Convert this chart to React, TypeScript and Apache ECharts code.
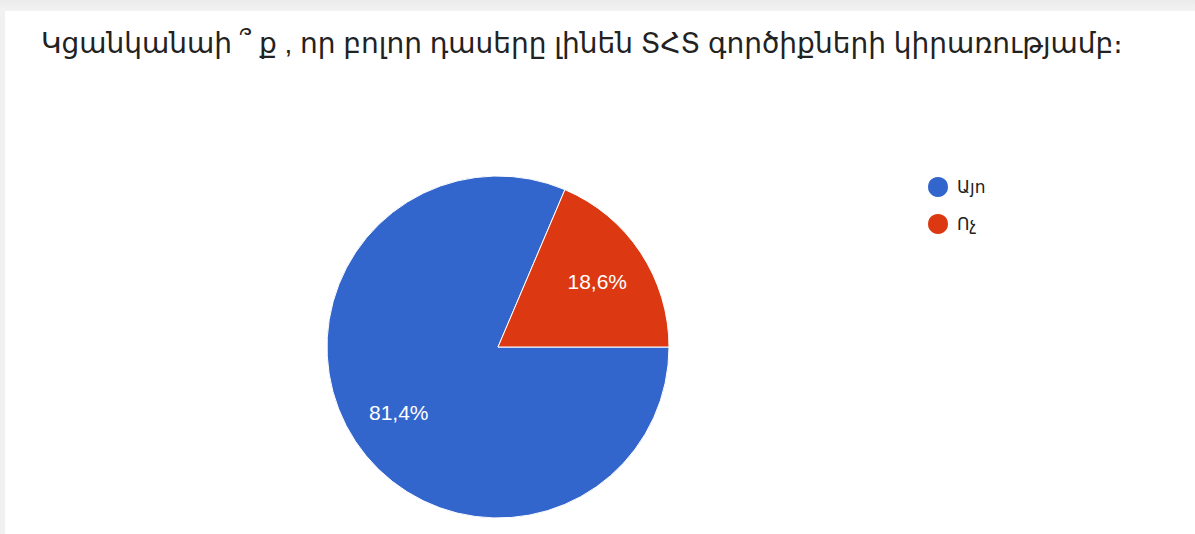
import React, { useEffect, useRef } from "react";
import * as echarts from "echarts";

const titleText = "Կցանկանաի ՞ ք , որ բոլոր դասերը լինեն ՏՀՏ գործիքների կիրառությամբ։";
const categories = ["Այո", "Ոչ"];
const values = [81.4, 18.6];
const colors = ["#3366cc", "#dc3912"];

const FONT = "Arial, 'Liberation Sans', 'DejaVu Sans', sans-serif";

export default function App() {
  const ref = useRef<HTMLDivElement>(null);
  useEffect(() => {
    document.body.style.margin = "0";
    const chart = echarts.init(ref.current!, null, { renderer: "svg" });
    const data = categories.map((name, i) => ({
      name,
      value: values[i],
      itemStyle: { color: colors[i] },
    }));
    chart.setOption({
      animation: false,
      backgroundColor: "#ffffff",
      title: {
        text: titleText,
        left: 36,
        top: 24,
        textStyle: { fontFamily: FONT, fontSize: 28, fontWeight: "normal", color: "#222222" },
      },
      legend: {
        orient: "vertical",
        left: 921,
        top: 170,
        icon: "circle",
        itemWidth: 22,
        itemHeight: 22,
        itemGap: 13,
        data: categories,
        selectedMode: false,
        textStyle: { fontFamily: FONT, fontSize: 17, color: "#222222", padding: [0, 0, 0, 3] },
      },
      graphic: [
        {
          type: "rect",
          shape: { x: 0, y: 0, width: 1195, height: 11 },
          style: {
            fill: new echarts.graphic.LinearGradient(0, 0, 0, 1, [
              { offset: 0, color: "#ebebeb" },
              { offset: 1, color: "#f3f3f3" },
            ]),
          },
          silent: true,
        },
        {
          type: "rect",
          shape: { x: 0, y: 11, width: 5, height: 523 },
          style: { fill: "#f1f1f1" },
          silent: true,
        },
      ],
      series: [
        {
          type: "pie",
          center: [498, 347],
          radius: [0, 171],
          startAngle: 0,
          clockwise: true,
          data,
          label: { show: false },
          labelLine: { show: false },
          itemStyle: { borderColor: "#ffffff", borderWidth: 1 },
          emphasis: { disabled: true },
          silent: true,
        },
        {
          type: "pie",
          center: [498, 347],
          radius: [0, 232],
          startAngle: 0,
          clockwise: true,
          data: categories.map((name, i) => ({ name, value: values[i] })),
          itemStyle: { color: "rgba(0,0,0,0)", borderWidth: 0 },
          label: {
            show: true,
            position: "inside",
            formatter: (p: any) => p.value.toFixed(1).replace(".", ",") + "%",
            fontFamily: FONT,
            fontSize: 21,
            color: "#ffffff",
          },
          labelLine: { show: false },
          emphasis: { disabled: true },
          silent: true,
          z: 3,
        },
      ],
    });
    return () => chart.dispose();
  }, []);
  return <div ref={ref} style={{ width: 1195, height: 534 }} />;
}
